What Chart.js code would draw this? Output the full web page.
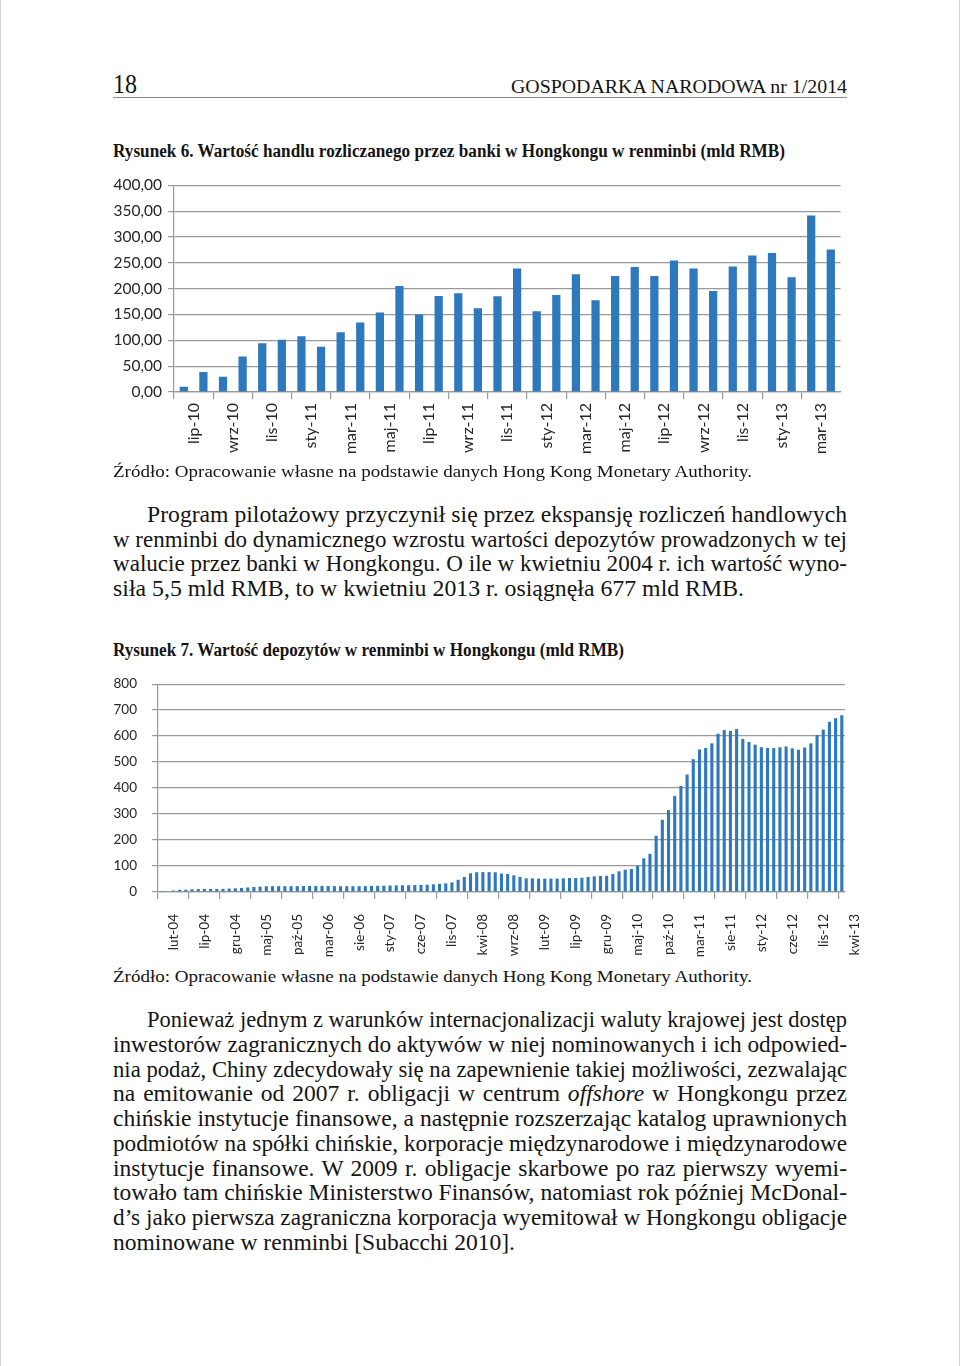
<!DOCTYPE html>
<html lang="pl">
<head>
<meta charset="UTF-8" />
<title>Gospodarka Narodowa 1/2014 – s. 18</title>
<script src="https://cdn.jsdelivr.net/npm/chart.js"></script>
<style>
  html, body { margin: 0; padding: 0; background: #fff; }
  body {
    width: 958px; height: 1366px; position: relative; overflow: hidden;
    border-left: 1px solid #d4d4d4; border-right: 1px solid #d4d4d4;
    font-family: "Liberation Serif", serif; color: #141414;
  }
  .t, .ln { position: absolute; white-space: nowrap; line-height: 1; transform-origin: 0 50%; }
  .b { font-weight: bold; }
  .full { text-align: justify; text-align-last: justify; }
  .rule { position: absolute; left: 112px; top: 97px; width: 734px; border-top: 1.5px solid #8a8a8a; }
  canvas { position: absolute; }
</style>
</head>
<body>
  <div class="t" data-x="112" data-cy="86" data-f="27" data-w="24">18</div>
  <div class="t" data-x="510" data-cy="88" data-f="19.5" data-w="336">GOSPODARKA NARODOWA nr 1/2014</div>
  <div class="rule"></div>

  <div class="t b" data-x="112" data-cy="152" data-f="18.5" data-w="672">Rysunek 6. Wartość handlu rozliczanego przez banki w Hongkongu w renminbi (mld RMB)</div>
  <canvas id="handelChart" width="750" height="290" style="left:99px;top:175px"></canvas>
  <div class="t" data-x="112" data-cy="473" data-f="17.5" data-w="639">Źródło: Opracowanie własne na podstawie danych Hong Kong Monetary Authority.</div>

  <div class="ln" data-p="1" data-x="146" data-cy="516" data-w="700">Program pilotażowy przyczynił się przez ekspansję rozliczeń handlowych</div>
  <div class="ln" data-p="1" data-x="112" data-cy="541" data-w="734">w renminbi do dynamicznego wzrostu wartości depozytów prowadzonych w tej</div>
  <div class="ln" data-p="1" data-x="112" data-cy="565" data-w="734">walucie przez banki w Hongkongu. O ile w kwietniu 2004 r. ich wartość wyno-</div>
  <div class="ln" data-p="1" data-x="112" data-cy="590" data-w="631" data-last="1">siła 5,5 mld RMB, to w kwietniu 2013 r. osiągnęła 677 mld RMB.</div>

  <div class="t b" data-x="112" data-cy="651" data-f="18.5" data-w="511">Rysunek 7. Wartość depozytów w renminbi w Hongkongu (mld RMB)</div>
  <canvas id="depozytyChart" width="750" height="292" style="left:99px;top:674px"></canvas>
  <div class="t" data-x="112" data-cy="978" data-f="17.5" data-w="639">Źródło: Opracowanie własne na podstawie danych Hong Kong Monetary Authority.</div>

  <div class="ln" data-p="2" data-x="146" data-cy="1021" data-w="700">Ponieważ jednym z warunków internacjonalizacji waluty krajowej jest dostęp</div>
  <div class="ln" data-p="2" data-x="112" data-cy="1046" data-w="734">inwestorów zagranicznych do aktywów w niej nominowanych i ich odpowied-</div>
  <div class="ln" data-p="2" data-x="112" data-cy="1071" data-w="734">nia podaż, Chiny zdecydowały się na zapewnienie takiej możliwości, zezwalając</div>
  <div class="ln" data-p="2" data-x="112" data-cy="1095" data-w="734">na emitowanie od 2007 r. obligacji w centrum <i>offshore</i> w Hongkongu przez</div>
  <div class="ln" data-p="2" data-x="112" data-cy="1120" data-w="734">chińskie instytucje finansowe, a następnie rozszerzając katalog uprawnionych</div>
  <div class="ln" data-p="2" data-x="112" data-cy="1145" data-w="734">podmiotów na spółki chińskie, korporacje międzynarodowe i międzynarodowe</div>
  <div class="ln" data-p="2" data-x="112" data-cy="1170" data-w="734">instytucje finansowe. W 2009 r. obligacje skarbowe po raz pierwszy wyemi-</div>
  <div class="ln" data-p="2" data-x="112" data-cy="1194" data-w="734">towało tam chińskie Ministerstwo Finansów, natomiast rok później McDonal-</div>
  <div class="ln" data-p="2" data-x="112" data-cy="1219" data-w="734">d’s jako pierwsza zagraniczna korporacja wyemitował w Hongkongu obligacje</div>
  <div class="ln" data-p="2" data-x="112" data-cy="1244" data-w="402" data-last="1">nominowane w renminbi [Subacchi 2010].</div>

<script>
  // dane
  const miesiace = ['sty', 'lut', 'mar', 'kwi', 'maj', 'cze', 'lip', 'sie', 'wrz', 'paź', 'lis', 'gru'];

  // Rys. 6: lip-10 ... kwi-13 (mld RMB)
  const handel = [10.3, 38.6, 29.6, 68.8, 94.5, 101.0, 108.0, 87.5, 115.8, 134.4,
                  153.7, 205.0, 149.8, 185.9, 191.0, 162.0, 185.2, 239.2, 156.3, 187.8,
                  227.7, 177.5, 224.4, 241.8, 224.4, 254.7, 239.2, 195.5, 243.0, 264.3,
                  268.8, 221.9, 341.5, 275.9];

  // Rys. 7: lut-04 ... kwi-13 (mld RMB)
  const depozyty = [
    0.9, 2.0, 5.5, 8.4, 9.1, 10.6, 11.3, 11.7, 11.5, 11.9, 12.1,
    13.1, 14.4, 15.6, 17.5, 19.3, 20.6, 21.8, 22.4, 22.6, 22.4, 22.4, 22.6,
    22.9, 23.1, 23.4, 23.5, 23.1, 22.6, 22.1, 22.1, 22.2, 22.4, 22.8, 23.4,
    24.0, 24.5, 25.0, 25.5, 25.8, 26.0, 26.6, 26.8, 27.9, 29.3, 31.3, 33.4,
    37.0, 47.0, 58.0, 72.0, 76.0, 76.5, 76.5, 76.0, 71.0, 69.0, 64.0, 58.0,
    52.5, 52.5, 51.5, 51.5, 51.5, 51.5, 52.5, 54.0, 54.0, 55.0, 57.5, 60.0,
    61.5, 62.5, 69.0, 79.5, 86.0, 88.5, 101.0, 129.5, 147.0, 216.5, 278.0, 315.0,
    370.0, 408.0, 452.0, 511.0, 548.0, 554.0, 572.0, 609.0, 623.0, 620.0, 627.0, 589.0,
    577.0, 567.0, 557.0, 554.0, 554.0, 557.0, 560.0, 553.0, 547.0, 556.0, 572.0, 604.0,
    625.0, 655.0, 669.0, 680.0
  ];

  function etykiety(rok, mies, n) {
    const out = [];
    for (let i = 0; i < n; i++) {
      const m = (mies + i) % 12, r = rok + Math.floor((mies + i) / 12);
      out.push(miesiace[m] + '-' + String(r % 100).padStart(2, '0'));
    }
    return out;
  }
  const kategorie1 = etykiety(2010, 6, handel.length);
  const kategorie2 = etykiety(2004, 1, depozyty.length);

  const niebieski = '#2e78bd';
  const szary = '#9a9a9a';
  const tekst = '#262626';

  // wykres słupkowy w stylu Excela; co = co ile kategorii etykieta i kreska
  function konfig(kategorie, dane, o) {
    return {
      type: 'bar',
      data: {
        labels: kategorie,
        datasets: [{ data: dane, backgroundColor: niebieski, barPercentage: o.bar, categoryPercentage: 1 }]
      },
      options: {
        responsive: false,
        maintainAspectRatio: false,
        animation: false,
        layout: { padding: 0 },
        plugins: { legend: { display: false }, tooltip: { enabled: false } },
        scales: {
          x: {
            grid: {
              offset: true, drawOnChartArea: false, tickLength: 7, lineWidth: 1.2,
              color: ctx => ctx.index % o.co === 0 ? szary : 'rgba(0,0,0,0)'
            },
            border: { color: szary, width: 1.2 },
            ticks: {
              autoSkip: false, minRotation: 90, maxRotation: 90,
              padding: o.xPad, labelOffset: o.xOff,
              color: tekst, font: { family: 'Lato', size: o.xFont },
              callback: (v, i) => i % o.co === 0 ? kategorie[i] : ''
            },
            afterFit: s => { s.height = o.xH; }
          },
          y: {
            min: 0, max: o.max,
            grid: { color: szary, lineWidth: 1.2, tickLength: 6 },
            border: { color: szary, width: 1.2 },
            ticks: {
              stepSize: o.krok, padding: o.yPad, color: tekst,
              font: { family: 'Lato', size: o.yFont }, callback: o.format
            },
            afterFit: s => { s.width = o.yW; }
          }
        }
      }
    };
  }

  // ustawia płótno tak, aby obszar wykresu wypadł w zadanym prostokącie strony
  function rysuj(id, zrob, cel) {
    const canvas = document.getElementById(id);
    let chart = new Chart(canvas, zrob());
    for (let k = 0; k < 3; k++) {
      const a = chart.chartArea;
      const nx = cel.left - a.left, ny = cel.top - a.top;
      const nw = Math.round(chart.width + cel.right - (nx + a.right));
      const nh = Math.round(chart.height + cel.bottom - (ny + a.bottom));
      chart.destroy();
      canvas.width = nw; canvas.height = nh;
      canvas.style.width = nw + 'px'; canvas.style.height = nh + 'px';
      canvas.style.left = nx + 'px'; canvas.style.top = ny + 'px';
      chart = new Chart(canvas, zrob());
    }
    return chart;
  }

  rysuj('handelChart', () => konfig(kategorie1, handel, {
    bar: 0.42, co: 2, xPad: 4, xOff: 9.8, xFont: 16, xH: 73,
    max: 400, krok: 50, yPad: 6, yFont: 15.5, yW: 74,
    format: v => v.toFixed(2).replace('.', ',')
  }), { left: 173, top: 185, right: 840, bottom: 392 });

  rysuj('depozytyChart', () => konfig(kategorie2, depozyty, {
    bar: 0.5, co: 5, xPad: 15, xOff: 12.4, xFont: 13.5, xH: 74,
    max: 800, krok: 100, yPad: 15, yFont: 13.5, yW: 58,
    format: v => v
  }), { left: 157, top: 684, right: 844, bottom: 892 });

  // tekst strony: pozycje i dopasowanie szerokości wierszy
  function uloz() {
    document.querySelectorAll('.t').forEach(el => {
      const f = +el.dataset.f;
      el.style.fontSize = f + 'px';
      el.style.left = el.dataset.x + 'px';
      el.style.top = (el.dataset.cy - 0.56 * f) + 'px';
      const w = el.getBoundingClientRect().width;
      el.style.transform = 'scaleX(' + (el.dataset.w / w) + ')';
    });

    const fAkapit = 23;
    ['1', '2'].forEach(p => {
      const wiersze = [...document.querySelectorAll('.ln[data-p="' + p + '"]')];
      wiersze.forEach(el => {
        el.style.fontSize = fAkapit + 'px';
        el.style.left = el.dataset.x + 'px';
        el.style.top = (el.dataset.cy - 0.56 * fAkapit) + 'px';
      });
      const ost = wiersze.find(el => el.dataset.last);
      const s = ost.dataset.w / ost.getBoundingClientRect().width;
      wiersze.forEach(el => {
        if (el.dataset.last) { el.style.transform = 'scaleX(' + s + ')'; return; }
        const nat = el.getBoundingClientRect().width;
        const cel = el.dataset.w / s;
        if (nat > cel) {
          el.style.transform = 'scaleX(' + (el.dataset.w / nat) + ')';
        } else {
          el.style.width = cel + 'px';
          el.style.whiteSpace = 'normal';
          el.classList.add('full');
          el.style.transform = 'scaleX(' + s + ')';
        }
      });
    });
  }
  uloz();
</script>
</body>
</html>
